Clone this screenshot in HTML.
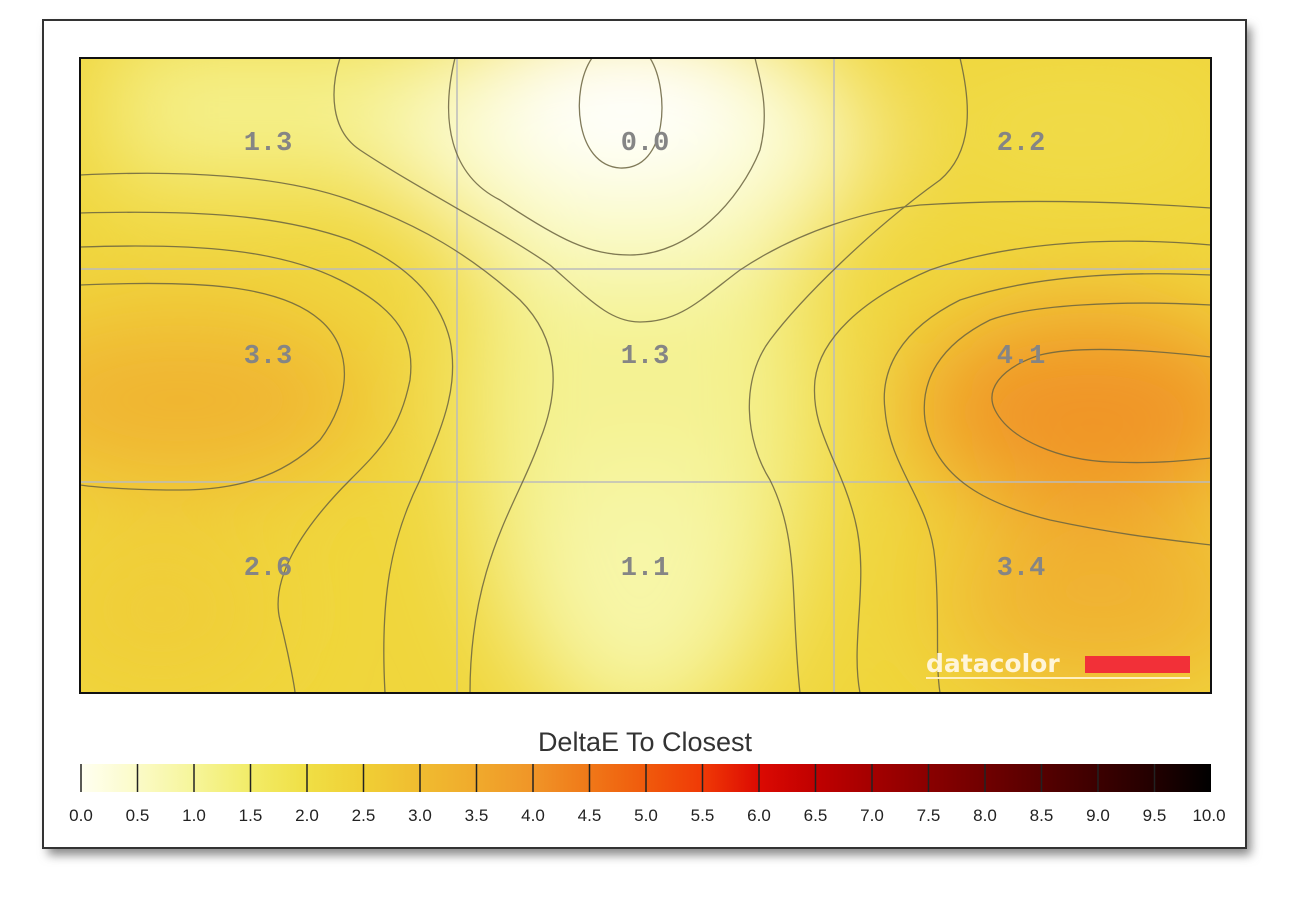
<!DOCTYPE html>
<html><head><meta charset="utf-8"><style>
html,body{margin:0;padding:0;background:#fff;width:1310px;height:908px;overflow:hidden}
</style></head><body>
<svg width="1310" height="908" viewBox="0 0 1310 908" xmlns="http://www.w3.org/2000/svg">
<defs>
<filter id="sh" x="-5%" y="-5%" width="110%" height="115%"><feGaussianBlur stdDeviation="5"/></filter>
<filter id="bl" x="-50%" y="-50%" width="200%" height="200%"><feGaussianBlur stdDeviation="50"/></filter>
<clipPath id="pc"><rect x="80" y="58" width="1131" height="635"/></clipPath>
<linearGradient id="cb" x1="0" x2="1">
<stop offset="0" stop-color="#fffff2"/>
<stop offset="0.05" stop-color="#fbfbc8"/>
<stop offset="0.1" stop-color="#f6f59a"/>
<stop offset="0.15" stop-color="#f2ec68"/>
<stop offset="0.2" stop-color="#f0df45"/>
<stop offset="0.25" stop-color="#f0cf35"/>
<stop offset="0.3" stop-color="#f0bc30"/>
<stop offset="0.35" stop-color="#f0aa2c"/>
<stop offset="0.4" stop-color="#f09528"/>
<stop offset="0.45" stop-color="#f07818"/>
<stop offset="0.5" stop-color="#f05a0c"/>
<stop offset="0.55" stop-color="#f03a06"/>
<stop offset="0.6" stop-color="#dc0a02"/>
<stop offset="0.65" stop-color="#c00000"/>
<stop offset="0.7" stop-color="#a40000"/>
<stop offset="0.75" stop-color="#8a0000"/>
<stop offset="0.8" stop-color="#700000"/>
<stop offset="0.85" stop-color="#560000"/>
<stop offset="0.9" stop-color="#3c0000"/>
<stop offset="0.95" stop-color="#220000"/>
<stop offset="1" stop-color="#000"/>
</linearGradient>
</defs>
<rect x="48" y="27" width="1203" height="828" fill="#888" filter="url(#sh)"/>
<rect x="43" y="20" width="1203" height="828" fill="#fff" stroke="#333" stroke-width="2"/>
<g clip-path="url(#pc)">
<rect x="80" y="58" width="1131" height="635" fill="#f0d63c"/>
<g filter="url(#bl)">
<rect x="110" y="40" width="400" height="140" fill="#f5f290"/>
<ellipse cx="640" cy="400" rx="170" ry="340" fill="#f4f292"/>
<ellipse cx="640" cy="580" rx="110" ry="120" fill="#f7f6a8"/>
<ellipse cx="630" cy="140" rx="240" ry="130" fill="#fbfbcc"/>
<ellipse cx="625" cy="100" rx="130" ry="80" fill="#ffffff"/>
<ellipse cx="1080" cy="130" rx="160" ry="60" fill="#f0dc48"/>
<ellipse cx="180" cy="400" rx="190" ry="85" fill="#f0b430"/>
<ellipse cx="1090" cy="410" rx="180" ry="100" fill="#f09428"/>
<ellipse cx="1100" cy="600" rx="160" ry="90" fill="#f0b232"/>
<ellipse cx="160" cy="610" rx="110" ry="70" fill="#f0cc38"/>
</g>
<g stroke="#bbb" stroke-width="1.5" fill="none">
<line x1="457" y1="58" x2="457" y2="693"/><line x1="834" y1="58" x2="834" y2="693"/>
<line x1="80" y1="269" x2="1211" y2="269"/><line x1="80" y1="482" x2="1211" y2="482"/>
</g>
<g stroke="#6b6440" stroke-width="1.3" fill="none" opacity="0.85">
<path d="M592,58 C570,90 575,165 620,168 C668,170 670,90 650,58"/>
<path d="M455,58 C440,120 450,175 500,200 C560,240 590,255 630,255 C690,255 740,200 760,150 C770,110 760,80 755,58"/>
<path d="M340,58 C330,90 330,130 360,150 C420,190 500,230 550,265 C590,300 610,322 640,322 C680,322 700,300 740,270 C800,230 870,210 920,205 C1000,200 1100,200 1211,208"/>
<path d="M80,175 C180,170 280,175 350,200 C420,225 470,255 520,300 C560,340 560,390 540,440 C520,500 470,560 470,693"/>
<path d="M80,213 C200,210 280,215 350,240 C410,265 440,300 450,340 C460,390 440,430 420,480 C390,540 380,600 385,693"/>
<path d="M80,247 C200,243 280,250 340,280 C400,310 415,340 410,380 C400,430 380,450 350,480 C300,530 270,580 280,620 C290,660 295,690 295,693"/>
<path d="M80,285 C200,280 280,285 320,320 C355,350 350,400 320,440 C280,480 230,490 180,490 C140,490 100,488 80,485"/>
<path d="M960,58 C970,100 975,150 940,180 C870,230 800,300 770,340 C740,380 745,440 770,480 C800,540 790,600 800,693"/>
<path d="M1211,245 C1100,235 1000,245 930,270 C860,300 820,340 815,380 C810,430 840,460 855,520 C870,580 850,640 860,693"/>
<path d="M1211,275 C1100,270 1020,280 960,300 C900,330 880,370 885,410 C890,470 930,500 935,560 C940,620 935,660 940,693"/>
<path d="M1211,305 C1120,300 1030,305 990,320 C940,345 920,380 925,420 C935,480 990,505 1050,520 C1120,535 1170,540 1211,545"/>
<path d="M1211,357 C1150,350 1080,345 1040,355 C1000,368 985,390 995,410 C1010,440 1060,460 1110,462 C1160,464 1190,460 1211,458"/>
</g>
<g font-family="'Liberation Mono',monospace" font-weight="bold" font-size="27" fill="#858585" text-anchor="middle">
<text x="268" y="150">1.3</text><text x="645" y="150">0.0</text><text x="1021" y="150">2.2</text>
<text x="268" y="363">3.3</text><text x="645" y="363">1.3</text><text x="1021" y="363">4.1</text>
<text x="268" y="575">2.6</text><text x="645" y="575">1.1</text><text x="1021" y="575">3.4</text>
</g>
<text x="926" y="672" font-family="'DejaVu Sans',sans-serif" font-weight="bold" font-size="25" fill="#fff5d8">datacolor</text>
<rect x="1085" y="656" width="105" height="17" fill="#f23038"/>
<rect x="926" y="677" width="264" height="2" fill="#fff0c0"/>
</g>
<rect x="80" y="58" width="1131" height="635" fill="none" stroke="#111" stroke-width="2"/>
<text x="645" y="751" text-anchor="middle" font-family="'Liberation Sans',sans-serif" font-size="27" fill="#333">DeltaE To Closest</text>
<rect x="80" y="764" width="1131" height="28" fill="url(#cb)"/>
<g stroke="#222" stroke-width="1.5">
<line x1="81" y1="764" x2="81" y2="792"/><line x1="137.5" y1="764" x2="137.5" y2="792"/><line x1="194" y1="764" x2="194" y2="792"/><line x1="250.5" y1="764" x2="250.5" y2="792"/><line x1="307" y1="764" x2="307" y2="792"/><line x1="363.5" y1="764" x2="363.5" y2="792"/><line x1="420" y1="764" x2="420" y2="792"/><line x1="476.5" y1="764" x2="476.5" y2="792"/><line x1="533" y1="764" x2="533" y2="792"/><line x1="589.5" y1="764" x2="589.5" y2="792"/><line x1="646" y1="764" x2="646" y2="792"/><line x1="702.5" y1="764" x2="702.5" y2="792"/><line x1="759" y1="764" x2="759" y2="792"/><line x1="815.5" y1="764" x2="815.5" y2="792"/><line x1="872" y1="764" x2="872" y2="792"/><line x1="928.5" y1="764" x2="928.5" y2="792"/><line x1="985" y1="764" x2="985" y2="792"/><line x1="1041.5" y1="764" x2="1041.5" y2="792"/><line x1="1098" y1="764" x2="1098" y2="792"/><line x1="1154.5" y1="764" x2="1154.5" y2="792"/>
</g>
<g font-family="'Liberation Sans',sans-serif" font-size="17" fill="#222" text-anchor="middle">
<text x="81" y="821">0.0</text><text x="137.5" y="821">0.5</text><text x="194" y="821">1.0</text><text x="250.5" y="821">1.5</text><text x="307" y="821">2.0</text><text x="363.5" y="821">2.5</text><text x="420" y="821">3.0</text><text x="476.5" y="821">3.5</text><text x="533" y="821">4.0</text><text x="589.5" y="821">4.5</text><text x="646" y="821">5.0</text><text x="702.5" y="821">5.5</text><text x="759" y="821">6.0</text><text x="815.5" y="821">6.5</text><text x="872" y="821">7.0</text><text x="928.5" y="821">7.5</text><text x="985" y="821">8.0</text><text x="1041.5" y="821">8.5</text><text x="1098" y="821">9.0</text><text x="1154.5" y="821">9.5</text><text x="1209" y="821">10.0</text>
</g>
</svg>
</body></html>
